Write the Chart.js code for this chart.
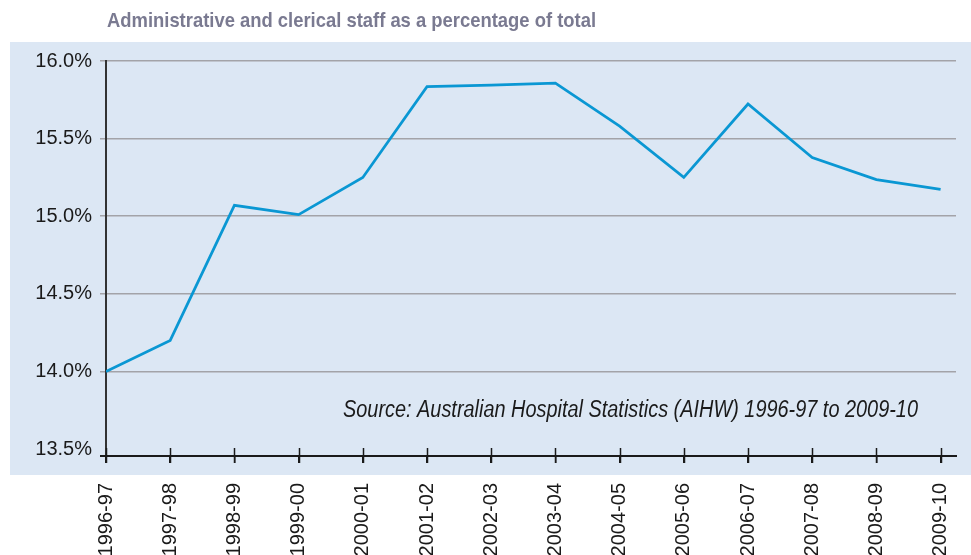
<!DOCTYPE html>
<html>
<head>
<meta charset="utf-8">
<title>Administrative and clerical staff as a percentage of total</title>
<script src="https://cdn.jsdelivr.net/npm/chart.js@4"></script>
<style>
  html, body { margin: 0; padding: 0; background: #fff; }
  #wrap { width: 971px; height: 555px; }
</style>
</head>
<body>
<div id="wrap"><canvas id="staffChart" width="971" height="555"></canvas></div>
<script>
// Data
const years = ['1996-97', '1997-98', '1998-99', '1999-00', '2000-01', '2001-02', '2002-03',
               '2003-04', '2004-05', '2005-06', '2006-07', '2007-08', '2008-09', '2009-10'];
const adminPct = [14.0, 14.2, 15.07, 15.01, 15.25, 15.835, 15.845,
                  15.858, 15.58, 15.25, 15.723, 15.378, 15.236, 15.173];
const yTicks = [13.5, 14.0, 14.5, 15.0, 15.5, 16.0];

const chartTitle = 'Administrative and clerical staff as a percentage of total';
const sourceNote = 'Source: Australian Hospital Statistics (AIHW) 1996-97 to 2009-10';

// draw text squeezed to a given width (the original uses a condensed face)
function fitText(ctx, text, x, y, width) {
    const w = ctx.measureText(text).width;
    ctx.save();
    ctx.translate(x, y);
    ctx.scale(width / w, 1);
    ctx.fillText(text, 0, 0);
    ctx.restore();
}

const decor = {
    id: 'decor',
    beforeDraw(chart) {
        const ctx = chart.ctx;
        ctx.save();
        ctx.fillStyle = '#dce7f4';
        ctx.fillRect(10, 42, 961, 433);

        ctx.fillStyle = '#7a7a91';
        ctx.font = 'bold 21px "Liberation Sans Narrow", "Liberation Sans", Arial, sans-serif';
        ctx.textBaseline = 'alphabetic';
        fitText(ctx, chartTitle, 107, 27, 489);
        ctx.restore();
    },
    afterDraw(chart) {
        const ctx = chart.ctx;
        const x = chart.scales.x;
        const area = chart.chartArea;
        ctx.save();
        // x axis line + crossing tick marks
        ctx.strokeStyle = '#1a1a1a';
        ctx.lineWidth = 2;
        ctx.beginPath();
        ctx.moveTo(100, area.bottom);
        ctx.lineTo(area.right + 1, area.bottom);
        ctx.stroke();
        ctx.lineWidth = 1.5;
        x.ticks.forEach(t => {
            const px = Math.round(x.getPixelForValue(t.value)) + 0.5;
            ctx.beginPath();
            ctx.moveTo(px, area.bottom - 8);
            ctx.lineTo(px, area.bottom + 7);
            ctx.stroke();
        });

        ctx.fillStyle = '#1a1a1a';
        ctx.font = 'italic 23px "Liberation Sans Narrow", "Liberation Sans", Arial, sans-serif';
        ctx.textBaseline = 'alphabetic';
        fitText(ctx, sourceNote, 343, 417, 575);
        ctx.restore();
    }
};

const ctx = document.getElementById('staffChart').getContext('2d');
new Chart(ctx, {
    type: 'line',
    data: {
        datasets: [{
            label: 'Administrative and clerical staff',
            data: adminPct.map((v, i) => ({ x: i, y: v })),
            borderColor: '#0a97d3',
            borderWidth: 2.7,
            pointRadius: 0,
            tension: 0,
            fill: false
        }]
    },
    options: {
        responsive: false,
        devicePixelRatio: 1,
        animation: false,
        layout: { padding: { top: 61, right: 15, left: 0, bottom: 0 } },
        plugins: {
            legend: { display: false },
            tooltip: { enabled: false },
            title: { display: false }
        },
        scales: {
            x: {
                type: 'linear',
                min: 0,
                max: 13.24,
                afterBuildTicks: (scale) => { scale.ticks = years.map((_, i) => ({ value: i })); },
                afterFit: (scale) => {
                    scale.height = 99;
                    scale.paddingLeft = 0;
                    scale.paddingRight = 0;
                },
                grid: { display: true, drawOnChartArea: false, drawTicks: true, tickLength: 7, color: '#1a1a1a', lineWidth: 1.5 },
                border: { display: false },
                ticks: {
                    callback: (v) => years[v],
                    minRotation: 90,
                    maxRotation: 90,
                    padding: 20,
                    color: '#1a1a1a',
                    font: { family: '"Liberation Sans", Arial, sans-serif', size: 20 }
                }
            },
            y: {
                min: 13.455,
                max: 16.0,
                afterBuildTicks: (scale) => { scale.ticks = yTicks.map(v => ({ value: v })); },
                afterFit: (scale) => { scale.width = 106; },
                grid: {
                    color: (c) => c.tick && c.tick.value === 13.5 ? 'rgba(0,0,0,0)' : '#a3a3a8',
                    lineWidth: 1.5,
                    tickLength: 6
                },
                border: { display: true, color: '#333333', width: 2 },
                ticks: {
                    callback: (v) => v.toFixed(1) + '%',
                    padding: 8,
                    color: '#1a1a1a',
                    font: { family: '"Liberation Sans", Arial, sans-serif', size: 20 }
                }
            }
        }
    },
    plugins: [decor]
});
</script>
</body>
</html>
